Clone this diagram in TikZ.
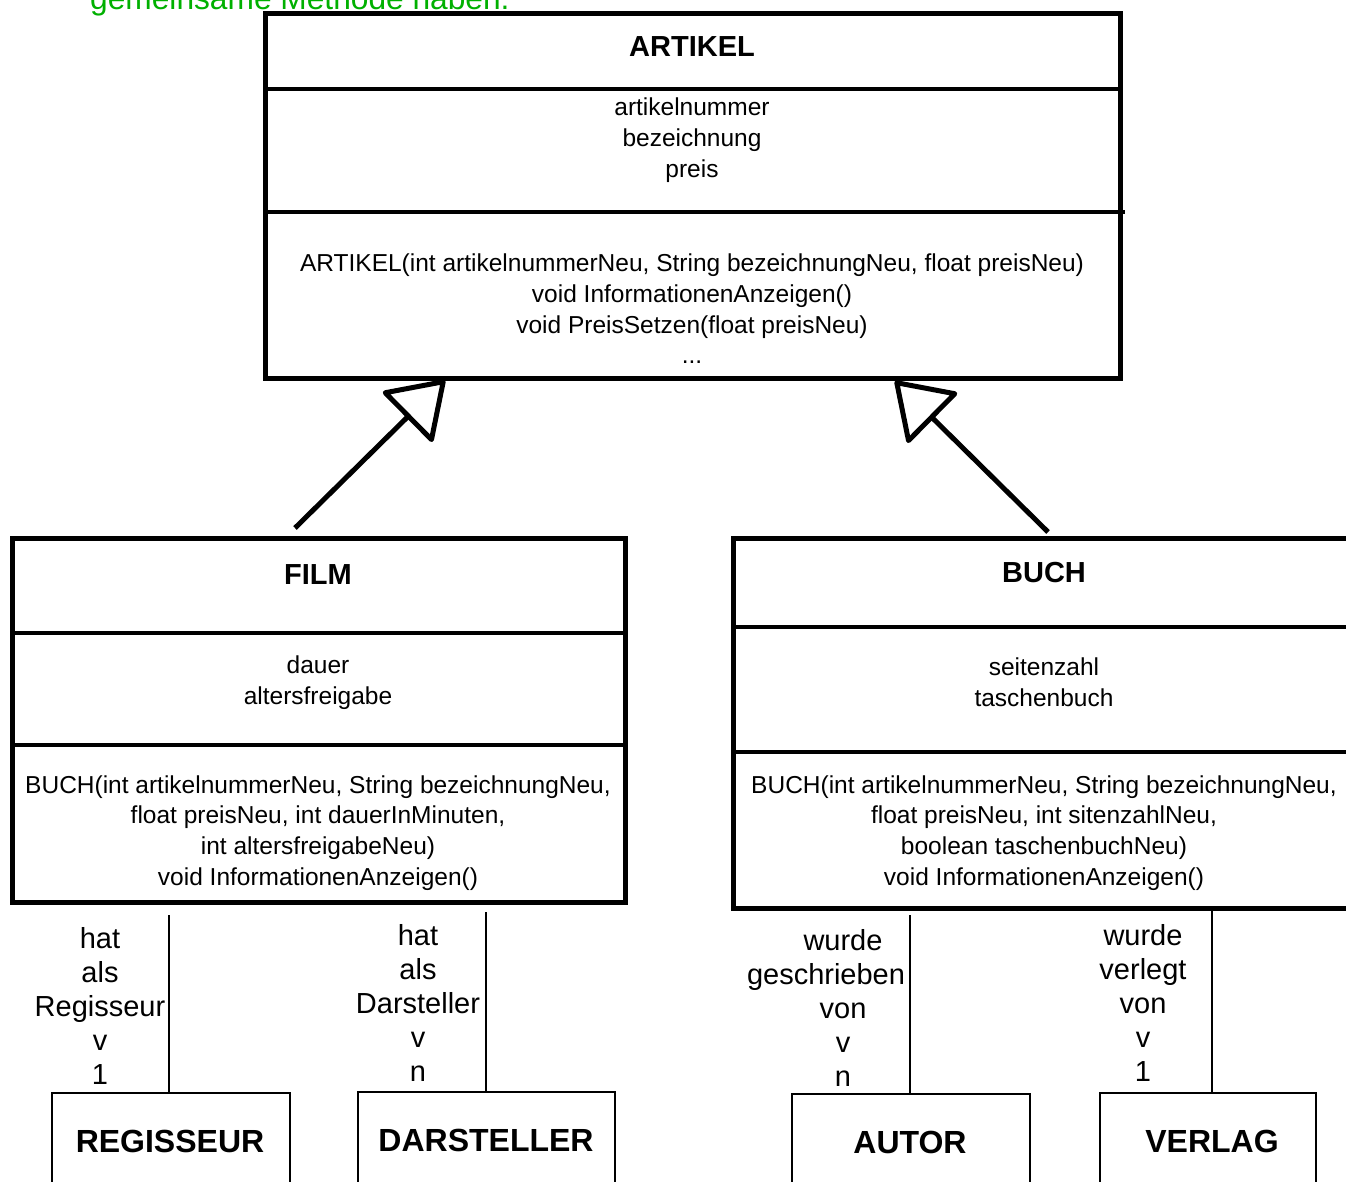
\documentclass[tikz,border=0pt]{standalone}
\usepackage{fontspec}
\setmainfont{Liberation Sans}
\usetikzlibrary{arrows.meta}
\definecolor{notegreen}{RGB}{0,176,0}
\begin{document}
\begin{tikzpicture}[x=1pt,y=-1pt,
  classbox/.style={draw, line width=5pt, rectangle, anchor=north west, outer sep=0pt, inner sep=0pt},
  entbox/.style={draw, line width=1.5pt, rectangle, anchor=north west, outer sep=0pt, inner sep=0pt},
  divider/.style={line width=4.5pt},
  body/.style={align=center, inner sep=0pt, font=\fontsize{24.5}{30.7}\selectfont},
  title/.style={inner sep=0pt, font=\fontsize{29}{34}\selectfont\bfseries},
  enttitle/.style={inner sep=0pt, font=\fontsize{32}{38}\selectfont\bfseries},
  rolelabel/.style={align=center, inner sep=0pt, font=\fontsize{29}{34}\selectfont},
  assoc/.style={line width=1.5pt},
  inherit/.style={line width=5pt, -{Triangle[open, length=56pt, width=74pt, round]}},
  note/.style={inner sep=0pt, anchor=base west, text=notegreen, font=\fontsize{31.7}{38}\selectfont}
]
\useasboundingbox (0,0) rectangle (1346,1182);

% green note (cut off at top)
\node[note] (greennote) at (90,10) {gemeinsame Methode haben.};

% ARTIKEL
\node[classbox, minimum width=855pt, minimum height=364pt] (artikel) at (265,14) {};
\draw[divider] (265,89) -- (1120,89);
\draw[divider] (265,212) -- (1125,212);
\node[title] (artikeltitle) at (692,47) {ARTIKEL};
\node[body] (artikelattr) at (692,140) {artikelnummer\\bezeichnung\\preis};
\node[body] (artikelmeth) at (692,309) {ARTIKEL(int artikelnummerNeu, String bezeichnungNeu, float preisNeu)\\void InformationenAnzeigen()\\void PreisSetzen(float preisNeu)\\...};

% FILM
\node[classbox, minimum width=613pt, minimum height=364pt] (film) at (12,538) {};
\draw[divider] (12,633) -- (625,633);
\draw[divider] (12,745) -- (625,745);
\node[title] (filmtitle) at (318,575) {FILM};
\node[body] (filmattr) at (318,682.5) {dauer\\altersfreigabe};
\node[body] (filmmeth) at (318,833) {BUCH(int artikelnummerNeu, String bezeichnungNeu,\\float preisNeu, int dauerInMinuten,\\int altersfreigabeNeu)\\void InformationenAnzeigen()};

% BUCH
\node[classbox, minimum width=625pt, minimum height=370pt] (buch) at (733,538) {};
\draw[divider] (733,627) -- (1358,627);
\draw[divider] (733,752) -- (1358,752);
\node[title] (buchtitle) at (1044,573) {BUCH};
\node[body] (buchattr) at (1044,682) {seitenzahl\\taschenbuch};
\node[body] (buchmeth) at (1044,833) {BUCH(int artikelnummerNeu, String bezeichnungNeu,\\float preisNeu, int sitenzahlNeu,\\boolean taschenbuchNeu)\\void InformationenAnzeigen()};

% inheritance arrows
\coordinate (filmfrom) at (295,528);
\coordinate (filmto) at (445,380);
\coordinate (buchfrom) at (1048,532);
\coordinate (buchto) at (895,381);
\draw[inherit] (filmfrom) -- (filmto);
\draw[inherit] (buchfrom) -- (buchto);

% entity boxes
\node[entbox, minimum width=238pt, minimum height=120pt] (regisseur) at (52,1093) {};
\node[entbox, minimum width=257pt, minimum height=120pt] (darsteller) at (358,1092) {};
\node[entbox, minimum width=238pt, minimum height=120pt] (autor) at (792,1094) {};
\node[entbox, minimum width=216pt, minimum height=120pt] (verlag) at (1100,1093) {};
\node[enttitle] (regisseurtitle) at (170,1141) {REGISSEUR};
\node[enttitle] (darstellertitle) at (486,1140) {DARSTELLER};
\node[enttitle] (autortitle) at (910,1142) {AUTOR};
\node[enttitle] (verlagtitle) at (1212,1141) {VERLAG};

% associations
\coordinate (regtop) at (169,915);
\coordinate (dartop) at (486,912);
\coordinate (auttop) at (910,915);
\coordinate (vertop) at (1212,908);
\draw[assoc] (regtop) -- (regtop |- regisseur.north);
\draw[assoc] (dartop) -- (dartop |- darsteller.north);
\draw[assoc] (auttop) -- (auttop |- autor.north);
\draw[assoc] (vertop) -- (vertop |- verlag.north);

\node[rolelabel] (reglabel) at (100,1006) {hat\\als\\Regisseur\\v\\1};
\node[rolelabel] (darlabel) at (418,1003) {hat\\als\\Darsteller\\v\\n};
\node[rolelabel] (autlabel) at (843,1007.5) {wurde\\\hspace*{-34pt}geschrieben\\von\\v\\n};
\node[rolelabel] (verlabel) at (1143,1003) {wurde\\verlegt\\von\\v\\1};
\end{tikzpicture}
\end{document}
